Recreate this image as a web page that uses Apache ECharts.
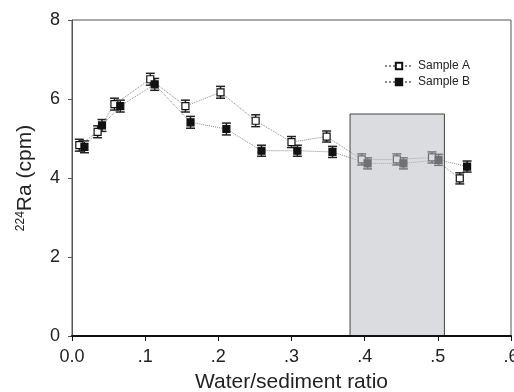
<!DOCTYPE html>
<html>
<head>
<meta charset="utf-8">
<script src="https://cdn.jsdelivr.net/npm/echarts@6/dist/echarts.min.js"></script>
<style>
  html, body { margin: 0; padding: 0; background: #fff; }
  #show_picture { width: 514px; height: 392px; }
</style>
</head>
<body>
<div id="show_picture"></div>
<script>
// values
let xA = [0.010, 0.035, 0.058, 0.107, 0.155, 0.203, 0.251, 0.300, 0.348, 0.396, 0.444, 0.492, 0.530];
let yA = [4.83, 5.17, 5.87, 6.50, 5.82, 6.17, 5.45, 4.91, 5.05, 4.47, 4.47, 4.52, 3.99];
let errA = [0.15, 0.15, 0.15, 0.15, 0.15, 0.15, 0.15, 0.14, 0.14, 0.14, 0.14, 0.14, 0.14];

let xB = [0.017, 0.041, 0.066, 0.113, 0.162, 0.211, 0.259, 0.308, 0.356, 0.404, 0.453, 0.501, 0.540];
let yB = [4.79, 5.33, 5.82, 6.37, 5.41, 5.24, 4.69, 4.69, 4.66, 4.37, 4.37, 4.46, 4.29];
let errB = [0.15, 0.15, 0.15, 0.15, 0.15, 0.15, 0.14, 0.14, 0.14, 0.14, 0.14, 0.14, 0.14];

// shaded range: x from, x to, height
let shadeBox = [0.38, 0.509, 5.62];

let xTicks = ['0.0', '.1', '.2', '.3', '.4', '.5', '.6'];

let myChart = echarts.init(document.getElementById('show_picture'));

function pairs(xs, ys) {
    let d = [];
    for (let i = 0; i < xs.length; i++) d.push([xs[i], ys[i]]);
    return d;
}

function errData(xs, ys, es) {
    let d = [];
    for (let i = 0; i < xs.length; i++) d.push([xs[i], ys[i] - es[i], ys[i] + es[i]]);
    return d;
}

function renderErr(params, api) {
    let x = api.value(0);
    let top = api.coord([x, api.value(2)]);
    let bot = api.coord([x, api.value(1)]);
    let w = 4.5;
    let st = { stroke: '#222', lineWidth: 1.5 };
    return {
        type: 'group',
        children: [
            { type: 'line', shape: { x1: top[0], y1: top[1], x2: bot[0], y2: bot[1] }, style: st },
            { type: 'line', shape: { x1: top[0] - w, y1: top[1], x2: top[0] + w, y2: top[1] }, style: st },
            { type: 'line', shape: { x1: bot[0] - w, y1: bot[1], x2: bot[0] + w, y2: bot[1] }, style: st }
        ]
    };
}

function renderBox(params, api) {
    let p0 = api.coord([api.value(0), api.value(2)]);
    let p1 = api.coord([api.value(1), 0]);
    return {
        type: 'rect',
        shape: { x: p0[0], y: p0[1], width: p1[0] - p0[0], height: p1[1] - p0[1] },
        style: { fill: 'rgba(190,191,197,0.55)', stroke: '#444', lineWidth: 1 }
    };
}

let font = 'Liberation Sans, Arial, sans-serif';

let option = {
    animation: false,
    textStyle: { fontFamily: font },
    grid: {
        left: 72, right: 3, top: 20, bottom: 56,
        outerBoundsMode: 'none',
        containLabel: false,
        show: true, borderColor: '#555', borderWidth: 1
    },
    legend: {
        orient: 'vertical',
        left: 379, top: 55,
        itemWidth: 28, itemHeight: 8, itemGap: 4,
        textStyle: { fontSize: 12, color: '#222', fontFamily: font },
        data: ['Sample A', 'Sample B']
    },
    xAxis: {
        type: 'value',
        min: 0, max: 0.6, interval: 0.1,
        name: 'Water/sediment ratio',
        nameLocation: 'middle',
        nameGap: 36,
        nameTextStyle: { fontSize: 21, color: '#222', fontFamily: font },
        axisLine: { lineStyle: { color: '#111', width: 2 } },
        axisTick: { length: 5, lineStyle: { color: '#111' } },
        axisLabel: {
            fontSize: 18, color: '#222', margin: 12,
            formatter: function (v) { return xTicks[Math.round(v * 10)]; }
        },
        splitLine: { show: false },
        z: 10
    },
    yAxis: {
        type: 'value',
        min: 0, max: 8, interval: 2,
        name: '{sup|224}{n|Ra (cpm)}',
        nameLocation: 'middle',
        nameGap: 36,
        nameTextStyle: {
            color: '#222', fontFamily: font,
            rich: {
                sup: { fontSize: 12, verticalAlign: 'top', color: '#222', fontFamily: font, padding: [0, 0, 8, 0] },
                n: { fontSize: 21, color: '#222', fontFamily: font }
            }
        },
        axisLine: { show: true, lineStyle: { color: '#555', width: 1 } },
        axisTick: { show: true, length: 4, lineStyle: { color: '#555' } },
        axisLabel: { fontSize: 18, color: '#222', margin: 12 },
        splitLine: { show: false }
    },
    series: [
        {
            type: 'custom', name: 'errA', renderItem: renderErr,
            data: errData(xA, yA, errA), z: 1, silent: true
        },
        {
            type: 'custom', name: 'errB', renderItem: renderErr,
            data: errData(xB, yB, errB), z: 1, silent: true
        },
        {
            name: 'Sample A',
            type: 'line',
            data: pairs(xA, yA),
            symbol: 'rect', symbolSize: 7,
            itemStyle: { color: '#fff', borderColor: '#111', borderWidth: 1.2 },
            lineStyle: { type: 'dotted', color: '#888', width: 1 },
            z: 3
        },
        {
            name: 'Sample B',
            type: 'line',
            data: pairs(xB, yB),
            symbol: 'rect', symbolSize: 7,
            itemStyle: { color: '#111', borderColor: '#111', borderWidth: 1.2 },
            lineStyle: { type: 'dotted', color: '#888', width: 1 },
            z: 3
        },
        {
            type: 'custom', name: 'box', renderItem: renderBox,
            data: [shadeBox], z: 5, silent: true
        }
    ]
};

option && myChart.setOption(option);
</script>
</body>
</html>
